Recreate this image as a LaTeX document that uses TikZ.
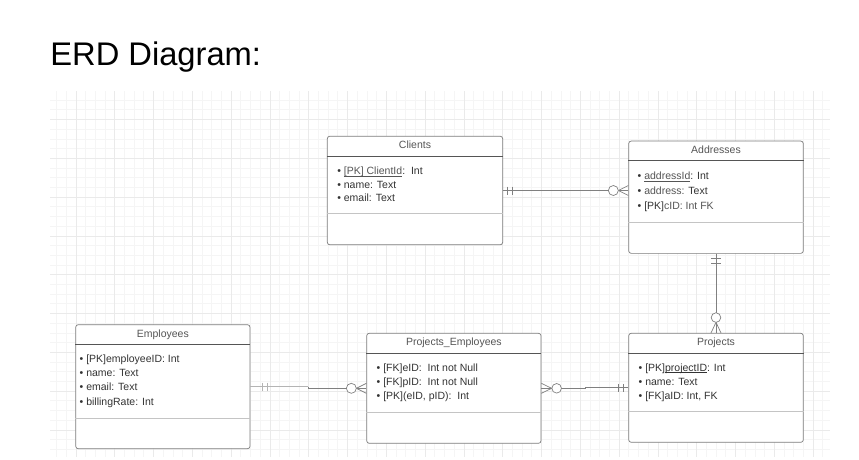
\documentclass[tikz,border=0pt]{standalone}
\usepackage{fontspec}
\setmainfont{Liberation Sans}
\usetikzlibrary{positioning}

\definecolor{gridminor}{HTML}{F5F5F5}
\definecolor{gridmajor}{HTML}{EAEAEA}
\definecolor{bordercol}{HTML}{7C7C7C}
\definecolor{headcol}{HTML}{555555}
\definecolor{sepcol}{HTML}{C4C4C4}
\definecolor{titlecol}{HTML}{555555}
\definecolor{fieldcol}{HTML}{333333}
\definecolor{conncol}{HTML}{808080}
\definecolor{connlight}{HTML}{B4B4B4}

\begin{document}
\begin{tikzpicture}[x = 1pt, y = -1pt, % pixel like units, y going down
                line width = 0.7pt
            ]

            \tikzstyle{entity}=[draw = bordercol, fill = white, rounded
            corners = 2.5pt, inner sep = 0pt]
            \tikzstyle{enttitle}=[anchor = base, inner sep = 0pt, text =
            titlecol, font = \fontsize{10.5}{12}\selectfont]
            \tikzstyle{field}=[anchor = base west, inner sep = 0pt, text =
            fieldcol, font = \fontsize{10.5}{12}\selectfont]
            \tikzstyle{headline}=[draw = headcol]
            \tikzstyle{sepline}=[draw = sepcol]
            \tikzstyle{conn}=[draw = conncol]
            \tikzstyle{connfaint}=[draw = connlight]

            \useasboundingbox (0,0) rectangle (859,459);

            % background grid
            \begin{scope}[line width = 0.4pt]
                \clip (50,91) rectangle (830,457);
                \foreach \k in {0,...,81} \draw[gridminor]
                ({46.6+9.7*\k},91) -- ({46.6+9.7*\k},457);
                \foreach \k in {0,...,38} \draw[gridminor]
                (50,{90.2+9.7*\k}) -- (830,{90.2+9.7*\k});
                \foreach \k in {0,...,20} \draw[gridmajor]
                ({75.7+38.8*\k},91) -- ({75.7+38.8*\k},457);
                \foreach \k in {0,...,10} \draw[gridmajor]
                (50,{80.5+38.8*\k}) -- (830,{80.5+38.8*\k});
            \end{scope}

            \node (heading) [anchor = base west, inner sep = 0pt, font =
            \fontsize{32.7}{36}\selectfont] at (50,65.5) {ERD Diagram:};

            % entities
            \node (clients) [entity, minimum width = 175.4pt, minimum height
            = 108.6pt] at (415,190.5) {};
            \node (addresses) [entity, minimum width = 174.6pt, minimum
            height = 112.3pt] at (716,197.2) {};
            \node (employees) [entity, minimum width = 174.3pt, minimum
            height = 124pt] at (162.85,386.7) {};
            \node (pe) [entity, minimum width = 174.3pt, minimum height =
            110pt] at (453.85,388.3) {};
            \node (projects) [entity, minimum width = 174.6pt, minimum height
            = 109pt] at (716,387.8) {};

            % header and lower separators
            \foreach \e/\s in {clients/77.3, addresses/81.3, employees/93.7,
                pe/79, projects/78} {
                \draw[headline] ([yshift = -20pt]\e.north west) -- ([yshift
                = -20pt]\e.north east);
                \draw[sepline] ([yshift = -\s pt]\e.north west) -- ([yshift
                = -\s pt]\e.north east);
            }

            % titles
            \node[enttitle] at ([yshift = -12.8pt]clients.north) {Clients};
            \node[enttitle] at ([yshift = -12.8pt]addresses.north)
            {Addresses};
            \node[enttitle] at ([yshift = -13pt]employees.north) {Employees};
            \node[enttitle] at ([yshift = -12.6pt]pe.north)
            {Projects\_Employees};
            \node[enttitle] at ([yshift = -12.6pt]projects.north) {Projects};

            % fields
            \foreach \t [count = \i from 0] in
            {{{\color{titlecol}\underline{\smash{[PK] ClientId}}}:\ \ Int},
                {name: Text}, {email: Text}}
            \node[field] at ([xshift = 10pt, yshift = {-38.8pt-13.5pt*\i}]
            clients.north west) {\textbullet\ \t};
            \foreach \t [count = \i from 0] in
            {{{\color{titlecol}\underline{\smash{addressId}}}: Int},
                {{\color{titlecol}address:} Text}, {[PK]{\color{titlecol}cID:
                    Int FK}}}
            \node[field] at ([xshift = 9pt, yshift = {-38.7pt-15pt*\i}]
            addresses.north west) {\textbullet\ \t};
            \foreach \t [count = \i from 0] in {{[PK]employeeID: Int}, {name:
                Text}, {email: Text}, {billingRate: Int}}
            \node[field] at ([xshift = 4pt, yshift = {-38pt-14.3pt*\i}]
            employees.north west) {\textbullet\ \t};
            \foreach \t [count = \i from 0] in {{[FK]eID:\ \ Int not Null},
                {[FK]pID:\ \ Int not Null}, {[PK](eID, pID):\ \ Int}}
            \node[field] at ([xshift = 10pt, yshift = {-38.1pt-14.3pt*\i}]
            pe.north west) {\textbullet\ \t};
            \foreach \t [count = \i from 0] in
            {{[PK]\underline{\smash{projectID}}: Int}, {name: Text}, {[FK]aID:
                Int, FK}}
            \node[field] at ([xshift = 10pt, yshift = {-38.1pt-14.3pt*\i}]
            projects.north west) {\textbullet\ \t};

            % clients -- addresses
            \coordinate (ca) at (clients.east -| addresses.west);
            \path[conn] (clients.east) edge (ca);
            \foreach \d in {4.5, 9}
            \draw[conn] ([xshift = \d pt, yshift = 4pt]clients.east) --
            ([xshift = \d pt, yshift = -4pt]clients.east);
            \draw[conn] ([yshift = 5pt]ca) -- ([xshift = -10pt]ca) --
            ([yshift = -5pt]ca);
            \draw[conn, fill = white] ([xshift = -15pt]ca) circle (5pt);

            % addresses -- projects
            \path[conn] (addresses.south) edge (projects.north);
            \foreach \d in {5, 10}
            \draw[conn] ([xshift = -5pt, yshift = -\d pt]addresses.south) --
            ([xshift = 5pt, yshift = -\d pt]addresses.south);
            \draw[conn] ([xshift = -5pt]projects.north) -- ([yshift =
            10.6pt]projects.north) -- ([xshift = 5pt]projects.north);
            \draw[conn, fill = white] ([yshift = 15.4pt]projects.north)
            circle (4.8pt);

            % employees -- projects_employees
            \coordinate (ejog) at ([xshift = 58pt]employees.east);
            \path[connfaint] (employees.east) edge (ejog);
            \draw[conn] (ejog) |- (pe.west);
            \foreach \d in {12.3, 16.7}
            \draw[connfaint] ([xshift = \d pt, yshift = 4pt]employees.east)
            -- ([xshift = \d pt, yshift = -4pt]employees.east);
            \draw[conn] ([yshift = 5pt]pe.west) -- ([xshift = -10pt]pe.west)
            -- ([yshift = -5pt]pe.west);
            \draw[conn, fill = white] ([xshift = -15pt]pe.west) circle (5pt);

            % projects_employees -- projects
            \coordinate (pjog) at ([xshift = 44pt]pe.east);
            \draw[conn] (pe.east) -- (pjog) |- (projects.west);
            \foreach \d in {5.4, 10.4}
            \draw[conn] ([xshift = -\d pt, yshift = 4pt]projects.west) --
            ([xshift = -\d pt, yshift = -4pt]projects.west);
            \draw[conn] ([yshift = 5pt]pe.east) -- ([xshift = 10.3pt]pe.east)
            -- ([yshift = -5pt]pe.east);
            \draw[conn, fill = white] ([xshift = 15.3pt]pe.east) circle
            (4.8pt);
\end{tikzpicture}
\end{document}
